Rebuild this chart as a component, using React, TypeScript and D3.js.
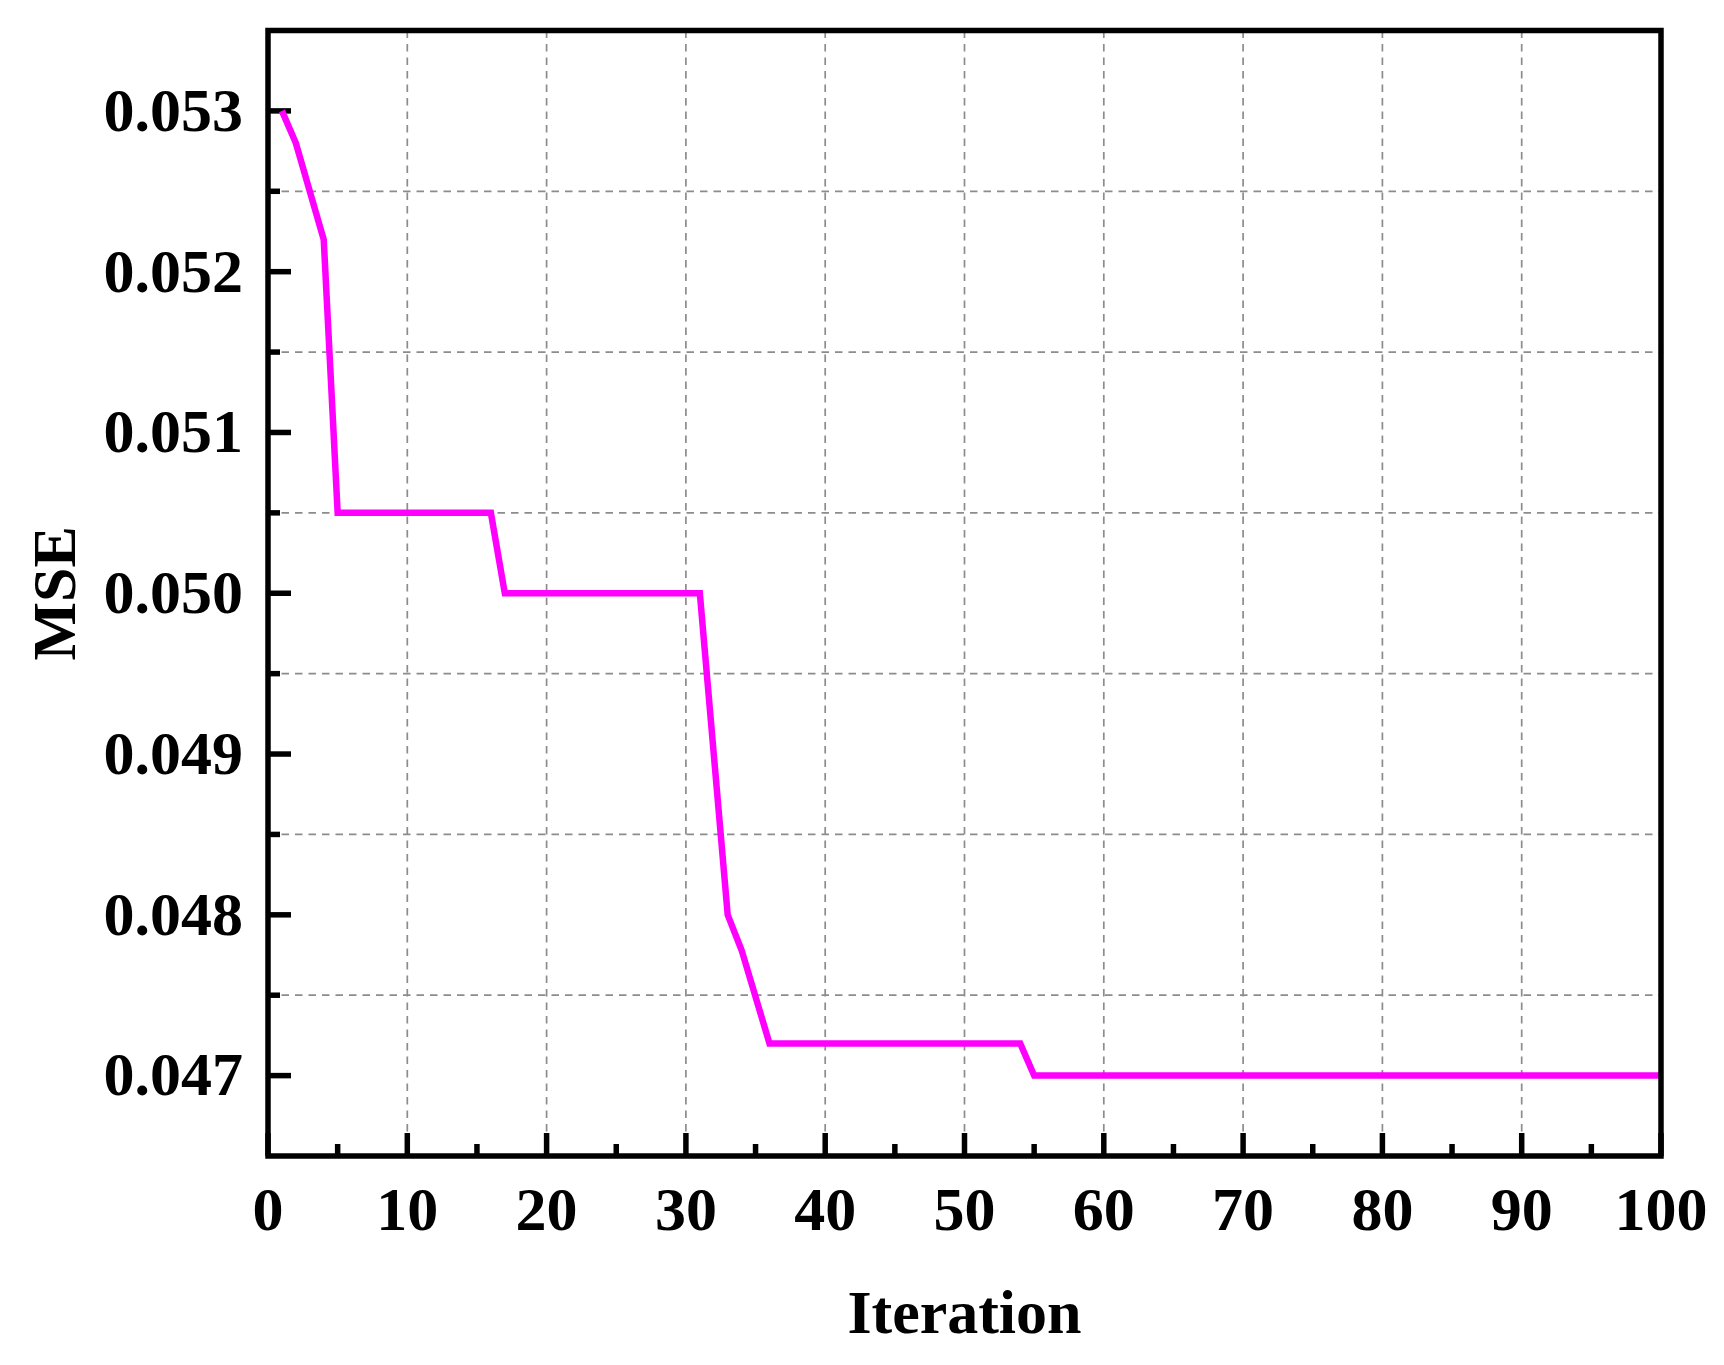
import * as d3 from 'd3'

// iteration values where the curve changes direction
const iterations = [1, 2, 4, 5, 16, 17, 31, 33, 34, 36, 54, 55, 100]
const mse = [0.053, 0.0528, 0.0522, 0.0505, 0.0505, 0.05, 0.05, 0.048, 0.04778, 0.0472, 0.0472, 0.047, 0.047]

const xMajor = [0, 10, 20, 30, 40, 50, 60, 70, 80, 90, 100]
const xMinor = [5, 15, 25, 35, 45, 55, 65, 75, 85, 95]
const yMajor = [0.047, 0.048, 0.049, 0.05, 0.051, 0.052, 0.053]
const yMinor = [0.0475, 0.0485, 0.0495, 0.0505, 0.0515, 0.0525]

const W = 1724
const H = 1365
const left = 268
const right = 1661
const top = 30.5
const bottom = 1156
const font = '"Liberation Serif", "Times New Roman", serif'

export default function App() {
    const x = d3.scaleLinear().domain([0, 100]).range([left, right])
    const y = d3.scaleLinear().domain([0.0465, 0.0535]).range([bottom, top])

    const pts: [number, number][] = iterations.map((it, i) => [it, mse[i]])
    const line = d3.line<[number, number]>()
        .x(d => x(d[0]))
        .y(d => y(d[1]))

    return (
        <div style={{ position: 'absolute', left: 0, top: 0 }}>
            <svg width={W} height={H} style={{ display: 'block', background: '#fff' }}>
                {/* grid */}
                <g stroke="#8c8c8c" strokeWidth={1.7} strokeDasharray="7.5,6">
                    {xMajor.slice(1, -1).map(v => (
                        <line key={'gx' + v} x1={x(v)} x2={x(v)} y1={top} y2={bottom} />
                    ))}
                    {yMinor.map(v => (
                        <line key={'gy' + v} x1={left} x2={right} y1={y(v)} y2={y(v)} />
                    ))}
                </g>

                {/* ticks */}
                <g stroke="#000" strokeWidth={5.5}>
                    {xMajor.map(v => (
                        <line key={'tx' + v} x1={x(v)} x2={x(v)} y1={bottom} y2={bottom - 23} />
                    ))}
                    {xMinor.map(v => (
                        <line key={'mx' + v} x1={x(v)} x2={x(v)} y1={bottom} y2={bottom - 12} />
                    ))}
                    {yMajor.map(v => (
                        <line key={'ty' + v} x1={left} x2={left + 23} y1={y(v)} y2={y(v)} />
                    ))}
                    {yMinor.map(v => (
                        <line key={'my' + v} x1={left} x2={left + 12} y1={y(v)} y2={y(v)} />
                    ))}
                </g>

                <path d={line(pts) as string} fill="none" stroke="#ff00ff" strokeWidth={6.5} />

                <rect x={left} y={top} width={right - left} height={bottom - top}
                    fill="none" stroke="#000" strokeWidth={5.5} />

                {/* tick labels */}
                <g fontFamily={font} fontWeight="bold" fontSize={62} fill="#000">
                    {xMajor.map(v => (
                        <text key={'lx' + v} x={x(v)} y={bottom + 74} textAnchor="middle">{v}</text>
                    ))}
                    {yMajor.map(v => (
                        <text key={'ly' + v} x={left - 25} y={y(v)} dy="0.32em" textAnchor="end">
                            {d3.format('.3f')(v)}
                        </text>
                    ))}
                    <text x={(left + right) / 2} y={1333} textAnchor="middle">Iteration</text>
                    <text transform={`translate(75,${(top + bottom) / 2}) rotate(-90)`} textAnchor="middle">MSE</text>
                </g>
            </svg>
        </div>
    )
}
